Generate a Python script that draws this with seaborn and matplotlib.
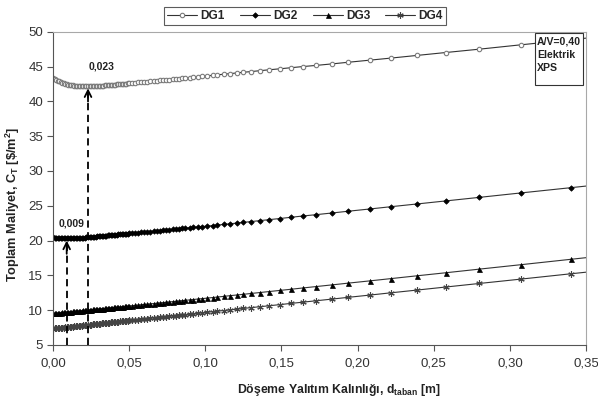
import matplotlib
matplotlib.use("Agg")
import matplotlib.pyplot as plt
from matplotlib.ticker import FuncFormatter, MultipleLocator
from matplotlib.patches import Rectangle
import seaborn as sns
import pandas as pd

# ---- data ----
d_taban = [0.000, 0.001, 0.002, 0.003, 0.004, 0.005, 0.006, 0.007, 0.008, 0.009,
           0.010, 0.011, 0.012, 0.013, 0.014, 0.015, 0.016, 0.017, 0.018, 0.019,
           0.020, 0.021, 0.022, 0.023, 0.024, 0.025, 0.026, 0.027, 0.028, 0.029,
           0.030, 0.031, 0.032, 0.033, 0.034, 0.035, 0.036, 0.037, 0.038, 0.039,
           0.040, 0.041, 0.042, 0.043, 0.044, 0.045, 0.046, 0.047, 0.048, 0.049,
           0.050,
           0.052, 0.054, 0.056, 0.058, 0.060, 0.062, 0.064, 0.066, 0.068, 0.070,
           0.072, 0.074, 0.076, 0.079,
           0.081, 0.083, 0.085, 0.087, 0.090, 0.092, 0.095, 0.098, 0.101, 0.105,
           0.108, 0.112, 0.116, 0.121, 0.125, 0.130, 0.136, 0.142, 0.149, 0.156,
           0.164, 0.173, 0.183, 0.194, 0.208, 0.222, 0.239, 0.258, 0.280, 0.307,
           0.340, 0.381]

DG1 = [43.40, 43.24, 43.10, 42.97, 42.86, 42.76, 42.67, 42.59, 42.52, 42.46,
       42.41, 42.37, 42.33, 42.30, 42.27, 42.25, 42.23, 42.21, 42.20, 42.19,
       42.18, 42.17, 42.17, 42.17, 42.17, 42.17, 42.18, 42.19, 42.20, 42.21,
       42.22, 42.23, 42.25, 42.26, 42.28, 42.29, 42.31, 42.33, 42.35, 42.37,
       42.39, 42.41, 42.43, 42.45, 42.47, 42.49, 42.51, 42.53, 42.56, 42.58,
       42.60,
       42.64, 42.68, 42.72, 42.76, 42.80, 42.84, 42.88, 42.92, 42.96, 43.00,
       43.04, 43.08, 43.12, 43.18,
       43.22, 43.27, 43.31, 43.35, 43.42, 43.46, 43.53, 43.59, 43.66, 43.75,
       43.81, 43.90, 43.98, 44.09, 44.18, 44.28, 44.41, 44.54, 44.68, 44.83,
       45.00, 45.17, 45.38, 45.62, 45.92, 46.22, 46.60, 47.02, 47.50, 48.12,
       48.86, 49.78]

DG2 = [20.45, 20.41, 20.38, 20.36, 20.34, 20.33, 20.32, 20.31, 20.30, 20.30,
       20.30, 20.31, 20.31, 20.32, 20.33, 20.34, 20.36, 20.37, 20.39, 20.40,
       20.42, 20.44, 20.46, 20.48, 20.50, 20.52, 20.54, 20.56, 20.58, 20.60,
       20.62, 20.64, 20.66, 20.68, 20.70, 20.72, 20.74, 20.76, 20.78, 20.80,
       20.82, 20.84, 20.86, 20.88, 20.90, 20.92, 20.94, 20.96, 20.98, 21.00,
       21.02,
       21.06, 21.10, 21.14, 21.18, 21.22, 21.26, 21.30, 21.35, 21.39, 21.43,
       21.47, 21.52, 21.56, 21.62,
       21.66, 21.70, 21.74, 21.78, 21.85, 21.89, 21.95, 22.01, 22.07, 22.16,
       22.23, 22.32, 22.41, 22.52, 22.62, 22.73, 22.87, 23.01, 23.17, 23.34,
       23.53, 23.73, 23.96, 24.22, 24.54, 24.87, 25.26, 25.70, 26.21, 26.84,
       27.60, 28.55]

DG3 = [9.55, 9.57, 9.59, 9.61, 9.63, 9.66, 9.68, 9.70, 9.72, 9.74,
       9.76, 9.78, 9.80, 9.82, 9.84, 9.87, 9.89, 9.91, 9.93, 9.95,
       9.97, 9.99, 10.01, 10.03, 10.05, 10.08, 10.10, 10.12, 10.14, 10.16,
       10.18, 10.20, 10.22, 10.24, 10.26, 10.29, 10.31, 10.33, 10.35, 10.37,
       10.39, 10.41, 10.43, 10.45, 10.47, 10.50, 10.52, 10.54, 10.56, 10.58,
       10.60,
       10.64, 10.69, 10.73, 10.78, 10.82, 10.86, 10.91, 10.95, 11.00, 11.04,
       11.08, 11.13, 11.17, 11.24,
       11.28, 11.33, 11.37, 11.42, 11.48, 11.53, 11.60, 11.66, 11.73, 11.82,
       11.89, 11.98, 12.08, 12.19, 12.28, 12.40, 12.54, 12.68, 12.84, 13.00,
       13.19, 13.40, 13.63, 13.89, 14.21, 14.54, 14.94, 15.38, 15.90, 16.53,
       17.31, 18.27]

DG4 = [7.35, 7.37, 7.40, 7.42, 7.44, 7.47, 7.49, 7.51, 7.54, 7.56,
       7.58, 7.61, 7.63, 7.65, 7.68, 7.70, 7.72, 7.75, 7.77, 7.79,
       7.82, 7.84, 7.86, 7.89, 7.91, 7.94, 7.96, 7.98, 8.01, 8.03,
       8.05, 8.08, 8.10, 8.12, 8.15, 8.17, 8.19, 8.22, 8.24, 8.26,
       8.29, 8.31, 8.33, 8.36, 8.38, 8.40, 8.43, 8.45, 8.47, 8.50,
       8.52,
       8.57, 8.61, 8.66, 8.70, 8.75, 8.80, 8.84, 8.89, 8.93, 8.98,
       9.03, 9.07, 9.12, 9.19,
       9.23, 9.28, 9.33, 9.37, 9.44, 9.49, 9.56, 9.63, 9.70, 9.79,
       9.86, 9.95, 10.04, 10.16, 10.25, 10.37, 10.50, 10.64, 10.80, 10.97,
       11.15, 11.36, 11.59, 11.85, 12.17, 12.50, 12.89, 13.33, 13.84, 14.46,
       15.23, 16.17]

series_names = ["DG1", "DG2", "DG3", "DG4"]
optimum_x = [0.023, 0.009]
optimum_y = [42.17, 20.3]
optimum_labels = ["0,023", "0,009"]
info_lines = ["A/V=0,40", "Elektrik", "XPS"]

df = pd.DataFrame({"d": d_taban, "DG1": DG1, "DG2": DG2, "DG3": DG3, "DG4": DG4})
long = df.melt(id_vars="d", var_name="seri", value_name="C")

# ---- style ----
sns.set_style("white")
plt.rcParams["font.family"] = ["Liberation Sans", "DejaVu Sans"]
plt.rcParams["mathtext.fontset"] = "custom"
plt.rcParams["mathtext.rm"] = "Liberation Sans:bold"
plt.rcParams["mathtext.it"] = "Liberation Sans:bold"
plt.rcParams["mathtext.bf"] = "Liberation Sans:bold"

fig = plt.figure(figsize=(5.98, 3.97), dpi=100)
ax = fig.add_axes([0.0886, 0.131, 0.8914, 0.789])

styles = {
    "DG1": dict(marker="o", markersize=3.2, markerfacecolor="white",
                markeredgecolor="#7a7a7a", markeredgewidth=0.8),
    "DG2": dict(marker="D", markersize=2.8, markerfacecolor="black",
                markeredgecolor="black", markeredgewidth=0.5),
    "DG3": dict(marker="^", markersize=3.6, markerfacecolor="black",
                markeredgecolor="black", markeredgewidth=0.5),
    "DG4": dict(marker=(6, 2, 0), markersize=4.6, markerfacecolor="#444444",
                markeredgecolor="#444444", markeredgewidth=0.8),
}
for name in series_names:
    sub = long[long["seri"] == name]
    sns.lineplot(data=sub, x="d", y="C", ax=ax, color="#333333", linewidth=0.8,
                 label=name, errorbar=None, **styles[name])

ax.set_xlim(0, 0.35)
ax.set_ylim(5, 50)
ax.xaxis.set_major_locator(MultipleLocator(0.05))
ax.yaxis.set_major_locator(MultipleLocator(5))
ax.xaxis.set_major_formatter(FuncFormatter(lambda v, p: f"{v:.2f}".replace(".", ",")))
ax.yaxis.set_major_formatter(FuncFormatter(lambda v, p: f"{v:.0f}"))

for s in ax.spines.values():
    s.set_color("#a8a8a8")
    s.set_linewidth(0.8)
ax.spines["left"].set_color("#555555")
ax.spines["bottom"].set_color("#555555")
ax.tick_params(axis="both", which="major", direction="out", length=4, width=0.8,
               color="#555555", labelsize=9.5, labelcolor="#333333",
               left=True, bottom=True, top=False, right=False)
ax.tick_params(axis="x", pad=5)
ax.tick_params(axis="y", pad=3)

ax.set_xlabel(r"Döşeme Yalıtım Kalınlığı, d$_{taban}$ [m]", fontsize=8.8,
              fontweight="bold", color="#222222")
ax.set_ylabel(r"Toplam Maliyet, C$_{T}$ [\$/m$^{2}$]", fontsize=9.2,
              fontweight="bold", color="#222222")
ax.xaxis.set_label_coords(0.537, -0.118)
ax.yaxis.set_label_coords(-0.058, 0.45)

# optimum markers: dashed vertical lines with arrow heads
for xo, yo in zip(optimum_x, optimum_y):
    ax.vlines(xo, 5, yo - 0.4, colors="black", linestyles=(0, (4, 2.5)),
              linewidth=1.3, zorder=4)
    ax.annotate("", xy=(xo, yo - 0.3), xytext=(xo, yo - 2.2),
                arrowprops=dict(arrowstyle="->", color="black", lw=1.3,
                                mutation_scale=12, shrinkA=0, shrinkB=0), zorder=5)
ax.text(optimum_x[0] + 0.0005, optimum_y[0] + 2.8, optimum_labels[0], fontsize=7.5,
        fontweight="bold", color="#222222", ha="left", va="center")
ax.text(optimum_x[1] + 0.0035, optimum_y[1] + 2.2, optimum_labels[1], fontsize=7.5,
        fontweight="bold", color="#222222", ha="center", va="center")

# info box (upper right)
ax.add_patch(Rectangle((0.904, 0.830), 0.090, 0.165, transform=ax.transAxes,
                       facecolor="white", edgecolor="#333333", linewidth=0.8,
                       zorder=6, clip_on=False))
ax.text(0.908, 0.986, "\n".join(info_lines), transform=ax.transAxes, ha="left",
        va="top", fontsize=7.6, fontweight="bold", color="#222222",
        linespacing=1.45, zorder=7)

leg = ax.legend(loc="center", bbox_to_anchor=(0.473, 1.05), ncol=4, frameon=True,
                fancybox=False, edgecolor="#333333",
                handlelength=2.5, columnspacing=1.25, handletextpad=0.3,
                borderpad=0.25, borderaxespad=0.0,
                prop={"weight": "bold", "size": 8.6})
leg.get_frame().set_linewidth(0.8)

fig.savefig("out.png", dpi=100, facecolor="white")
